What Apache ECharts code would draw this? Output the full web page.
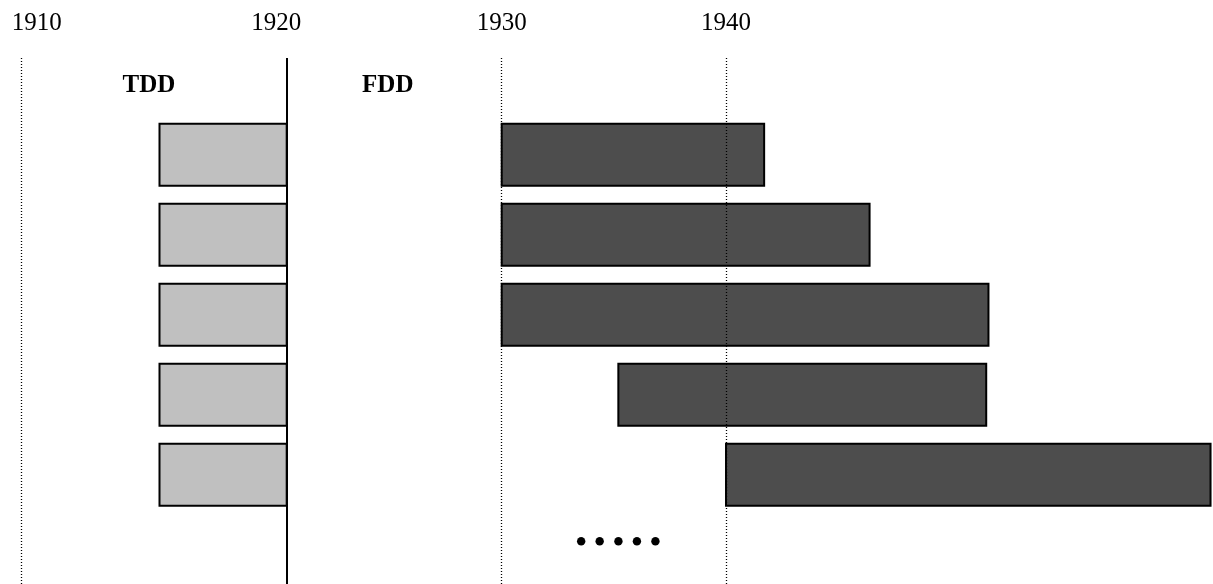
<!DOCTYPE html>
<html>
<head>
<meta charset="utf-8">
<script src="https://cdn.jsdelivr.net/npm/echarts@6/dist/echarts.min.js"></script>
<style>
html,body{margin:0;padding:0;background:#fff;}
#chart{width:1213px;height:584px;}
</style>
</head>
<body>
<div id="chart"></div>
<script>
// ---- data ----
const yearTicks = [1910, 1920, 1930, 1940];
const rows = [1, 2, 3, 4, 5];
const tddStart = [1915.2, 1915.2, 1915.2, 1915.2, 1915.2];
const tddEnd = [1920, 1920, 1920, 1920, 1920];
const fddStart = [1930, 1930, 1930, 1935.2, 1940];
const fddEnd = [1941.7, 1946.4, 1951.7, 1951.6, 1961.6];
const headerTexts = ['TDD', 'FDD'];
const headerYears = [1914.8, 1924.7];
const headerRow = 0.14;
const moreText = '• • • • •';
const moreYear = 1935.2;
const moreRow = 5.87;

// ---- chart ----
const FONT = 'Liberation Serif';
const chart = echarts.init(document.getElementById('chart'), null, {renderer: 'canvas'});

const yMin = -0.209, yMax = 6.366;
function yAxisFor(i) {
  return {type: 'value', gridIndex: i, inverse: true, min: yMin, max: yMax, show: false};
}
function renderBar(fill) {
  return function (params, api) {
    const s = api.coord([api.value(0), api.value(2)]);
    const e = api.coord([api.value(1), api.value(2)]);
    const h = api.size([0, 1])[1] * 0.775;
    return {
      type: 'rect',
      shape: {x: s[0], y: s[1] - h / 2, width: e[0] - s[0], height: h},
      style: {fill: fill, stroke: '#000', lineWidth: 2}
    };
  };
}
const tddData = rows.map((r, i) => [tddStart[i], tddEnd[i], r]);
const fddData = rows.map((r, i) => [fddStart[i], fddEnd[i], r]);

const dotted = {type: [1, 2], color: '#000', width: 1.3};
const textLabel = (size, weight) => ({
  show: true, position: 'inside', formatter: '{b}', fontFamily: FONT,
  fontSize: size, fontWeight: weight, color: '#000', opacity: 1, textBorderWidth: 0
});

const option = {
  animation: false,
  backgroundColor: '#fff',
  grid: [
    {left: 21.7, width: 265, top: 58, height: 526, containLabel: false, outerBoundsMode: 'none'},
    {left: 286.7, width: 215, top: 58, height: 526, containLabel: false, outerBoundsMode: 'none'},
    {left: 501.7, width: 711.3, top: 58, height: 526, containLabel: false, outerBoundsMode: 'none'}
  ],
  xAxis: [
    {
      type: 'value', gridIndex: 0, position: 'top', min: 1910, max: 1920, interval: 10,
      axisLine: {show: false}, axisTick: {show: false}, splitLine: {show: false},
      axisLabel: {
        margin: 22.5, fontFamily: FONT, fontSize: 25, color: '#000',
        formatter: v => v === 1910 ? '{a|' + v + '}' : (v === 1920 ? '{b|' + v + '}' : ''),
        rich: {
          a: {fontFamily: FONT, fontSize: 25, color: '#000', padding: [0, 0, 0, 30]},
          b: {fontFamily: FONT, fontSize: 25, color: '#000', padding: [0, 21, 0, 0]}
        }
      }
    },
    {
      type: 'value', gridIndex: 1, position: 'top', min: 1920, max: 1930, interval: 10,
      axisLine: {show: false}, axisTick: {show: false}, splitLine: {show: false},
      axisLabel: {show: false}
    },
    {
      type: 'value', gridIndex: 2, position: 'top', min: 1930, max: 1961.71, interval: 10,
      axisLine: {show: false}, axisTick: {show: false}, splitLine: {show: false},
      axisLabel: {
        margin: 22.5, fontFamily: FONT, fontSize: 25, color: '#000',
        formatter: v => (yearTicks.indexOf(v) >= 0 ? String(v) : '')
      }
    }
  ],
  yAxis: [yAxisFor(0), yAxisFor(1), yAxisFor(2)],
  series: [
    {
      type: 'custom', name: 'TDD', xAxisIndex: 0, yAxisIndex: 0, z: 2,
      renderItem: renderBar('#c0c0c0'), data: tddData, clip: false, silent: true
    },
    {
      type: 'custom', name: 'FDD', xAxisIndex: 2, yAxisIndex: 2, z: 2,
      renderItem: renderBar('#4d4d4d'), data: fddData, clip: false, silent: true
    },
    {
      type: 'scatter', xAxisIndex: 0, yAxisIndex: 0, symbolSize: 0, z: 5, silent: true,
      data: [],
      markLine: {
        silent: true, symbol: 'none', label: {show: false}, animation: false,
        data: [
          {xAxis: yearTicks[0], lineStyle: dotted},
          {xAxis: yearTicks[1], lineStyle: {type: 'solid', color: '#000', width: 2}}
        ]
      }
    },
    {
      type: 'scatter', xAxisIndex: 2, yAxisIndex: 2, symbolSize: 0, z: 5, silent: true,
      data: [],
      markLine: {
        silent: true, symbol: 'none', label: {show: false}, animation: false,
        data: [
          {xAxis: yearTicks[2], lineStyle: dotted},
          {xAxis: yearTicks[3], lineStyle: dotted}
        ]
      }
    },
    {
      type: 'scatter', xAxisIndex: 0, yAxisIndex: 0, symbolSize: 0, z: 6, silent: true,
      itemStyle: {opacity: 1},
      data: [{value: [headerYears[0], headerRow], name: headerTexts[0]}],
      label: textLabel(25, 'bold')
    },
    {
      type: 'scatter', xAxisIndex: 1, yAxisIndex: 1, symbolSize: 0, z: 6, silent: true,
      itemStyle: {opacity: 1},
      data: [{value: [headerYears[1], headerRow], name: headerTexts[1]}],
      label: textLabel(25, 'bold')
    },
    {
      type: 'scatter', xAxisIndex: 2, yAxisIndex: 2, symbolSize: 0, z: 6, silent: true,
      itemStyle: {opacity: 1},
      data: [{value: [moreYear, moreRow], name: moreText}],
      label: textLabel(31, 'bold')
    }
  ]
};
chart.setOption(option);
</script>
</body>
</html>
